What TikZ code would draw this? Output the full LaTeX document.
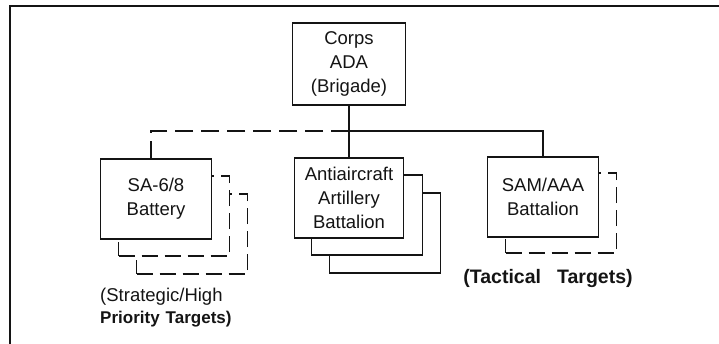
\documentclass[tikz,border=0pt]{standalone}
\usepackage{fontspec}
\setsansfont{Liberation Sans}
\usetikzlibrary{positioning, calc}
\definecolor{ink}{HTML}{141414}
\tikzset{
  font=\sffamily\fontsize{18.5}{24}\selectfont,
  %
  frame/.style={draw=ink, line width=2.4pt},
  card/.style={
    draw=ink, line width=1.3pt, fill=white, align=center, text=ink,
    minimum width=111pt, minimum height=80pt, inner sep=2pt,
  },
  cardd/.style={card, dash pattern=on 16pt off 7pt},
  %
  wire/.style={draw=ink, line width=1.3pt},
  wired/.style={wire, dash pattern=on 18pt off 8pt},
  %
  lbl/.style={text=ink, inner sep=0pt},
}

\begin{document}
\begin{tikzpicture}[x=1pt, y=-1pt]

  \useasboundingbox (0,0) rectangle (719,343);
  \draw[frame] (10,345) -- (10,6) -- (721,6);

  \node[card, minimum width=113pt, minimum height=82pt] (corps) at (349,64) {Corps\\ADA\\(Brigade)};

  % battery stack, hidden edges dashed
  \node[cardd] (sa2) at (192,234) {};
  \node[cardd] (sa1) at (174,216) {};
  \node[card] (sa) at (156,199) {SA-6/8\\Battery};

  % gun battalions
  \node[card] (aaa2) at (385,233) {};
  \node[card] (aaa1) at (367,215) {};
  \node[card, minimum width=109pt] (aaa) at (349,198) {Antiaircraft\\Artillery\\Battalion};

  \node[cardd] (sam1) at (561,213) {};
  \node[card] (sam) at (543,197) {SAM/AAA\\Battalion};

  \coordinate (bus) at (0,131);
  \draw[wire] (corps.south) -- (aaa.north);
  \draw[wire] (bus -| corps.south) -| (sam.north);
  \draw[wired] (bus -| corps.south) -| ([xshift=-5pt]sa.north);

  \node[lbl, anchor=west] (strat) at (100,297) {(Strategic/High};
  \node[lbl, anchor=west, font=\sffamily\bfseries\fontsize{17}{22}\selectfont] (prio) at (100,319)
    {Priority\hspace{6pt}Targets)};
  \node[lbl, font=\sffamily\bfseries\fontsize{19.5}{24}\selectfont] (tact) at (548,278)
    {(Tactical\hspace{16pt}Targets)};

\end{tikzpicture}
\end{document}
